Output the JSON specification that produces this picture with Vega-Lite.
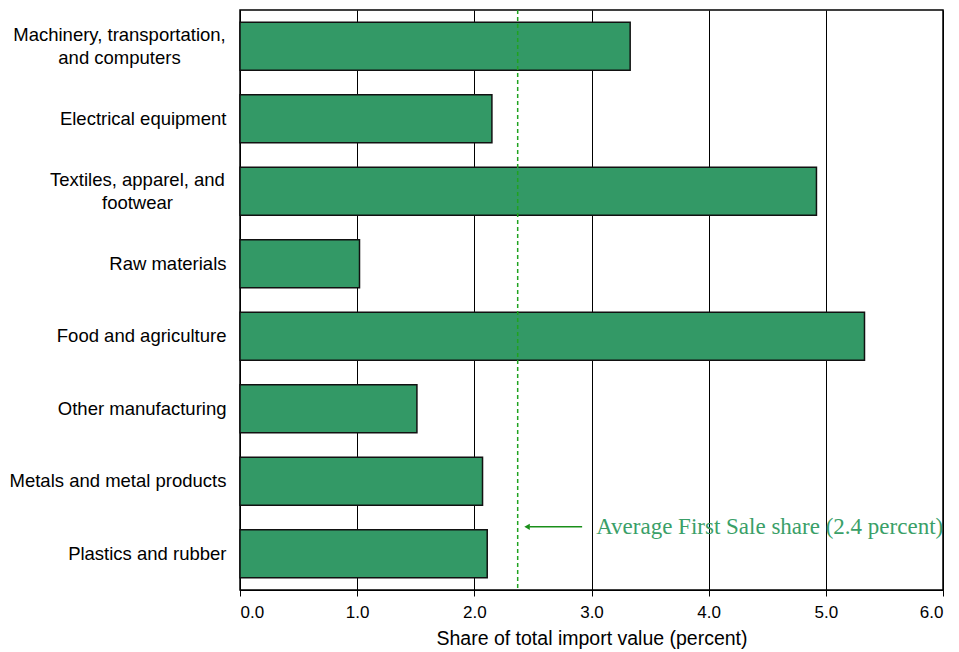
{
  "$schema": "https://vega.github.io/schema/vega-lite/v6.json",
  "autosize": {"type": "fit", "contains": "padding"},
  "width": 959,
  "height": 652,
  "padding": {"left": 9, "top": 9, "right": 15, "bottom": 4},
  "background": "white",
  "config": {
    "font": "Liberation Sans",
    "view": {"stroke": "black", "strokeWidth": 1.5},
    "axis": {"labelFont": "Liberation Sans", "titleFont": "Liberation Sans", "labelColor": "black", "titleColor": "black"}
  },
  "data": {
    "values": [
      {"category": "Machinery, transportation, and computers", "share": 3.33},
      {"category": "Electrical equipment", "share": 2.15},
      {"category": "Textiles, apparel, and footwear", "share": 4.92},
      {"category": "Raw materials", "share": 1.02},
      {"category": "Food and agriculture", "share": 5.33},
      {"category": "Other manufacturing", "share": 1.51},
      {"category": "Metals and metal products", "share": 2.07},
      {"category": "Plastics and rubber", "share": 2.11}
    ]
  },
  "layer": [
    {
      "mark": {"type": "bar", "fill": "#339966", "stroke": "#111111", "strokeWidth": 1.5},
      "encoding": {
        "x": {
          "field": "share",
          "type": "quantitative",
          "scale": {"domain": [0, 6], "nice": false},
          "axis": {
            "values": [0, 1, 2, 3, 4, 5, 6],
            "format": ".1f",
            "title": "Share of total import value (percent)",
            "titleFontSize": 19.5,
            "titleFontWeight": "normal",
            "titlePadding": 9,
            "labelFontSize": 17,
            "labelPadding": 8,
            "tickSize": 6,
            "tickColor": "black",
            "domainColor": "black",
            "grid": true,
            "gridColor": "black",
            "gridWidth": 1,
            "gridOpacity": 1
          }
        },
        "y": {
          "field": "category",
          "type": "nominal",
          "sort": null,
          "scale": {"paddingInner": 0.34, "paddingOuter": 0.17},
          "axis": {
            "title": null,
            "ticks": false,
            "domain": false,
            "labelFontSize": 18.5,
            "labelLineHeight": 23,
            "labelLimit": 300,
            "labelExpr": "datum.value == 'Machinery, transportation, and computers' ? ['Machinery, transportation,', 'and computers'] : datum.value == 'Textiles, apparel, and footwear' ? ['Textiles, apparel, and', 'footwear'] : datum.value",
            "labelAlign": {
              "condition": {"test": "datum.value == 'Machinery, transportation, and computers' || datum.value == 'Textiles, apparel, and footwear'", "value": "center"},
              "value": "right"
            },
            "labelPadding": {
              "condition": [
                {"test": "datum.value == 'Machinery, transportation, and computers'", "value": 121},
                {"test": "datum.value == 'Textiles, apparel, and footwear'", "value": 103}
              ],
              "value": 14
            },
            "labelOffset": {
              "condition": {"test": "datum.value == 'Machinery, transportation, and computers' || datum.value == 'Textiles, apparel, and footwear'", "value": -11.5},
              "value": 0
            }
          }
        }
      }
    },
    {
      "data": {"values": [{}]},
      "mark": {"type": "rule", "color": "#1fa31f", "strokeWidth": 1.5, "strokeDash": [4, 3]},
      "encoding": {"x": {"datum": 2.37}}
    },
    {
      "data": {"values": [{}]},
      "mark": {"type": "rule", "color": "#1a8f1a", "strokeWidth": 1.5, "yOffset": -3},
      "encoding": {
        "x": {"datum": 2.47},
        "x2": {"datum": 2.92},
        "y": {"datum": "Plastics and rubber", "bandPosition": 0}
      }
    },
    {
      "data": {"values": [{}]},
      "mark": {"type": "point", "shape": "triangle-left", "filled": true, "color": "#1a8f1a", "size": 40, "opacity": 1, "yOffset": -3},
      "encoding": {
        "x": {"datum": 2.45},
        "y": {"datum": "Plastics and rubber", "bandPosition": 0}
      }
    },
    {
      "data": {"values": [{"t": "Average First Sale share (2.4 percent)"}]},
      "mark": {"type": "text", "font": "Liberation Serif", "fontSize": 23, "color": "#3a9f68", "align": "left", "baseline": "middle", "yOffset": -3},
      "encoding": {
        "text": {"field": "t"},
        "x": {"datum": 3.04},
        "y": {"datum": "Plastics and rubber", "bandPosition": 0}
      }
    }
  ]
}
